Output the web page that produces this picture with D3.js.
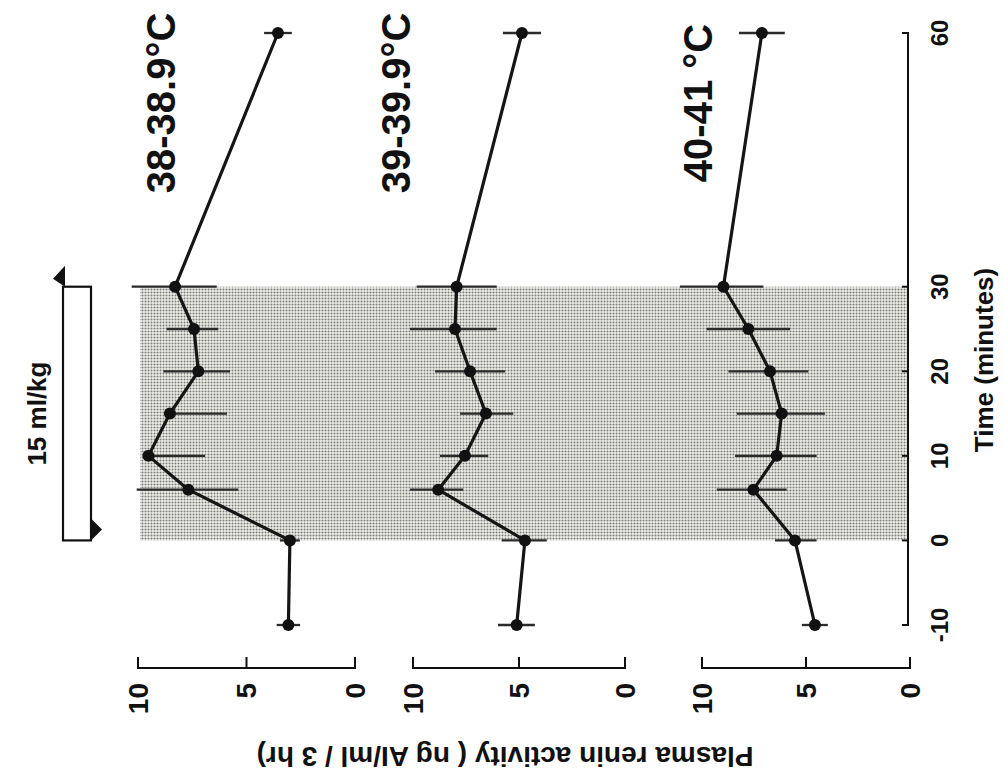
<!DOCTYPE html>
<html>
<head>
<meta charset="utf-8">
<script src="https://cdn.jsdelivr.net/npm/d3@7"></script>
<style>
  html, body { margin: 0; padding: 0; background: #fff; }
  svg { display: block; }
  text { font-family: "Liberation Sans", Arial, Helvetica, sans-serif; font-weight: bold; fill: #111; }
</style>
</head>
<body>
<svg id="chart" width="1004" height="783"></svg>
<script>
// Plasma renin activity during a 15 ml/kg infusion, by body-temperature group
const times = [-10, 0, 6, 10, 15, 20, 25, 30, 60];
const timeTicks = [-10, 0, 10, 20, 30, 60];
const valueTicks = [0, 5, 10];
const groupLabels = ["38-38.9°C", "39-39.9°C", "40-41 °C"];

// group means (ng AI/ml/3 hr)
const pra38 = [3.07, 3.00, 7.68, 9.52, 8.53, 7.22, 7.42, 8.29, 3.55];
const pra39 = [5.11, 4.72, 8.81, 7.55, 6.56, 7.31, 8.02, 7.94, 4.86];
const pra40 = [4.57, 5.53, 7.53, 6.41, 6.17, 6.73, 7.77, 8.97, 7.12];

// error-bar ends
const pra38Upper = [3.61, 3.46, 10.06, 9.52, 8.53, 8.83, 8.68, 10.29, 4.19];
const pra38Lower = [2.53, 2.54, 5.38, 6.91, 5.90, 5.76, 6.30, 6.37, 2.91];
const pra39Upper = [5.99, 5.82, 10.14, 8.73, 7.78, 8.96, 10.14, 9.83, 5.76];
const pra39Lower = [4.25, 3.69, 7.63, 6.45, 5.27, 5.66, 6.05, 6.05, 3.96];
const pra40Upper = [5.20, 6.49, 9.29, 8.41, 8.33, 8.73, 9.78, 11.06, 8.22];
const pra40Lower = [3.95, 4.49, 5.93, 4.49, 4.09, 4.89, 5.77, 7.05, 6.02];

const infusionStart = 0;
const infusionEnd = 30;
const infusionLabel = "15 ml/kg";
const timeTitle = "Time (minutes)";
const valueTitle = "Plasma renin activity ( ng AI/ml / 3 hr)";

const means = [pra38, pra39, pra40];
const uppers = [pra38Upper, pra39Upper, pra40Upper];
const lowers = [pra38Lower, pra39Lower, pra40Lower];

// The figure is laid out upright (time across, panels stacked) and then turned
// a quarter turn counter-clockwise onto the page.
const W = 783;
const svg = d3.select("#chart");

const defs = svg.append("defs");
const pat = defs.append("pattern")
  .attr("id", "stipple").attr("patternUnits", "userSpaceOnUse")
  .attr("width", 3).attr("height", 3);
pat.append("rect").attr("width", 3).attr("height", 3).attr("fill", "#efefe9");
pat.append("circle").attr("cx", 1.5).attr("cy", 1.5).attr("r", 1.0).attr("fill", "#7a7a7a");

const g = svg.append("g").attr("transform", `translate(0,${W}) rotate(-90)`);

const x = d3.scaleLinear().domain([-10, 60]).range([158, 750]);

// panel layout: pixel extents of each value axis (10 at top, 0 at bottom)
const panelTop = [138, 413, 702];
const panelBottom = [355, 625, 910];
const labelBaseline = [175, 410, 712];
const axisY = 908;      // time axis
const valueAxisX = 115; // value axes

// shaded infusion period across all panels
g.append("rect")
  .attr("x", x(infusionStart)).attr("width", x(infusionEnd) - x(infusionStart))
  .attr("y", 140).attr("height", axisY - 140)
  .attr("fill", "url(#stipple)");

// infusion bar
const boxTop = 63, boxBottom = 91;
g.append("rect")
  .attr("x", x(infusionStart)).attr("width", x(infusionEnd) - x(infusionStart))
  .attr("y", boxTop).attr("height", boxBottom - boxTop)
  .attr("fill", "#fff").attr("stroke", "#111").attr("stroke-width", 2.2);
g.append("path")
  .attr("d", `M${x(infusionEnd)},${boxTop + 2} L${x(infusionEnd) + 21},${boxTop + 2} L${x(infusionEnd) + 8},${boxTop - 10} Z`)
  .attr("fill", "#111");
g.append("path")
  .attr("d", `M${x(infusionStart)},${boxBottom} L${x(infusionStart) + 22},${boxBottom} L${x(infusionStart) + 11},${boxBottom + 11} Z`)
  .attr("fill", "#111");
g.append("text")
  .attr("x", (x(infusionStart) + x(infusionEnd)) / 2).attr("y", 46)
  .attr("text-anchor", "middle").attr("font-size", 26)
  .text(infusionLabel);

// time axis
const timeAxis = g.append("g");
timeAxis.append("line")
  .attr("x1", x(-10)).attr("x2", x(60)).attr("y1", axisY).attr("y2", axisY)
  .attr("stroke", "#111").attr("stroke-width", 2);
timeAxis.selectAll("line.tick").data(timeTicks).join("line")
  .attr("class", "tick")
  .attr("x1", d => x(d)).attr("x2", d => x(d))
  .attr("y1", axisY + 1).attr("y2", axisY - 6)
  .attr("stroke", "#111").attr("stroke-width", 2);
timeAxis.selectAll("text").data(timeTicks).join("text")
  .attr("x", d => x(d)).attr("y", 948)
  .attr("text-anchor", "middle").attr("font-size", 24)
  .text(d => d);
g.append("text")
  .attr("x", 423).attr("y", 993)
  .attr("text-anchor", "middle").attr("font-size", 26)
  .text(timeTitle);

// panels
means.forEach((vals, p) => {
  const y = d3.scaleLinear().domain([0, 10]).range([panelBottom[p], panelTop[p]]);
  const pts = times.map((t, i) => ({ t, v: vals[i], hi: uppers[p][i], lo: lowers[p][i] }));
  const panel = g.append("g");

  // value axis
  panel.append("line")
    .attr("x1", valueAxisX).attr("x2", valueAxisX)
    .attr("y1", y(0)).attr("y2", y(10))
    .attr("stroke", "#111").attr("stroke-width", 2);
  panel.selectAll("line.tick").data(valueTicks).join("line")
    .attr("class", "tick")
    .attr("x1", valueAxisX - 1).attr("x2", valueAxisX + 11)
    .attr("y1", d => y(d)).attr("y2", d => y(d))
    .attr("stroke", "#111").attr("stroke-width", 2);
  panel.selectAll("text.tl").data(valueTicks).join("text")
    .attr("class", "tl")
    .attr("x", 100).attr("y", d => y(d))
    .attr("text-anchor", "end").attr("dominant-baseline", "central")
    .attr("font-size", 28)
    .text(d => d);

  // error bars
  panel.selectAll("line.err").data(pts).join("line")
    .attr("class", "err")
    .attr("x1", d => x(d.t)).attr("x2", d => x(d.t))
    .attr("y1", d => y(d.lo)).attr("y2", d => y(d.hi))
    .attr("stroke", "#2a2a2a").attr("stroke-width", 2.3);

  // mean line
  panel.append("path")
    .datum(pts)
    .attr("d", d3.line().x(d => x(d.t)).y(d => y(d.v)))
    .attr("fill", "none").attr("stroke", "#151515")
    .attr("stroke-width", 3.2).attr("stroke-linejoin", "round");

  // points
  panel.selectAll("circle").data(pts).join("circle")
    .attr("cx", d => x(d.t)).attr("cy", d => y(d.v)).attr("r", 6)
    .attr("fill", "#111");

  // group label
  panel.append("text")
    .attr("x", 680).attr("y", labelBaseline[p])
    .attr("text-anchor", "middle").attr("font-size", 40)
    .text(groupLabels[p]);
});

// value axis title
g.append("text")
  .attr("transform", "translate(36,505) rotate(-90)")
  .attr("text-anchor", "middle").attr("font-size", 28)
  .text(valueTitle);
</script>
</body>
</html>
